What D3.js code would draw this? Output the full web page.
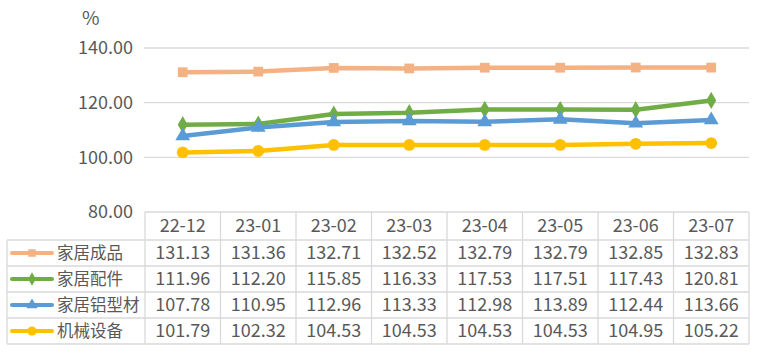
<!DOCTYPE html>
<html><head><meta charset="utf-8">
<script src="https://cdn.jsdelivr.net/npm/d3@7/dist/d3.min.js"></script>
<style>body{margin:0;background:#fff;}svg{display:block;font-family:"Noto Sans CJK SC","Noto Sans",sans-serif;}</style>
</head><body><svg id="c" width="763" height="357"></svg>
<script>
const categories = ["22-12","23-01","23-02","23-03","23-04","23-05","23-06","23-07"];
const seriesNames = ["家居成品","家居配件","家居铝型材","机械设备"];
const s1 = [131.13,131.36,132.71,132.52,132.79,132.79,132.85,132.83];
const s2 = [111.96,112.20,115.85,116.33,117.53,117.51,117.43,120.81];
const s3 = [107.78,110.95,112.96,113.33,112.98,113.89,112.44,113.66];
const s4 = [101.79,102.32,104.53,104.53,104.53,104.53,104.95,105.22];
const yTicks = [80,100,120,140];
const unitLabel = "%";

const colors = ["#F4B183","#70AD47","#5B9BD5","#FFC000"];
const symbols = [d3.symbolSquare, d3.symbolDiamond, d3.symbolTriangle, d3.symbolCircle];
const symSizes = [95, 85, 95, 110];
const series = [s1,s2,s3,s4];

const svg = d3.select("#c");
const pL = 145, pR = 749, pT = 48, pB = 212;
const x = d3.scaleBand().domain(categories).range([pL,pR]);
const y = d3.scaleLinear().domain([80,140]).range([pB,pT]);
const textColor = "#595959", gridColor = "#D9D9D9";
const fs = "18px";

svg.append("g").selectAll("line").data(yTicks.filter(t=>t>80)).join("line")
  .attr("x1",pL-1).attr("x2",pR).attr("y1",d=>y(d)).attr("y2",d=>y(d))
  .attr("stroke",gridColor).attr("stroke-width",1.3);

svg.append("g").selectAll("text").data(yTicks).join("text")
  .attr("x",133).attr("y",d=>y(d)).attr("dy","0.35em").attr("text-anchor","end")
  .attr("fill",textColor).style("font-size",fs).text(d=>d.toFixed(2));
svg.append("text").attr("x",82).attr("y",25).attr("fill",textColor).style("font-size","19px").text(unitLabel);

const rowEdges = [212,240,266,292,318,344];
const tbl = svg.append("g").attr("stroke",gridColor).attr("stroke-width",1.3);
rowEdges.forEach((ry,i)=>{
  tbl.append("line").attr("x1", i===0?pL:7).attr("x2",pR).attr("y1",ry).attr("y2",ry);
});
const colEdges = categories.map(c=>x(c)).concat([pR]);
colEdges.forEach(cx=>{
  tbl.append("line").attr("x1",cx).attr("x2",cx).attr("y1",212).attr("y2",344);
});
tbl.append("line").attr("x1",7).attr("x2",7).attr("y1",240).attr("y2",344);

svg.append("g").selectAll("text").data(categories).join("text")
  .attr("x",d=>x(d)+x.bandwidth()/2).attr("y",(212+240)/2).attr("dy","0.35em")
  .attr("text-anchor","middle").attr("fill",textColor).style("font-size",fs).text(d=>d);

series.forEach((vals,si)=>{
  const ry0 = rowEdges[si+1], ry1 = rowEdges[si+2], cy = (ry0+ry1)/2;
  svg.append("g").selectAll("text").data(vals).join("text")
    .attr("x",(d,i)=>x(categories[i])+x.bandwidth()/2).attr("y",cy).attr("dy","0.35em")
    .attr("text-anchor","middle").attr("fill",textColor).style("font-size",fs).text(d=>d.toFixed(2));
  svg.append("line").attr("x1",12).attr("x2",52).attr("y1",cy).attr("y2",cy)
    .attr("stroke",colors[si]).attr("stroke-width",4).attr("stroke-linecap","round");
  svg.append("path").attr("d",d3.symbol().type(symbols[si]).size(symSizes[si]*0.6)())
    .attr("transform",`translate(32,${cy})`).attr("fill",colors[si]);
  svg.append("text").attr("x",57).attr("y",cy).attr("dy","0.35em").attr("fill",textColor)
    .style("font-size","16.5px").text(seriesNames[si]);
});

series.forEach((vals,si)=>{
  const line = d3.line().x((d,i)=>x(categories[i])+x.bandwidth()/2).y(d=>y(d));
  svg.append("path").datum(vals).attr("d",line).attr("fill","none")
    .attr("stroke",colors[si]).attr("stroke-width",4.5).attr("stroke-linejoin","round");
  svg.append("g").selectAll("path").data(vals).join("path")
    .attr("d",d3.symbol().type(symbols[si]).size(symSizes[si]))
    .attr("transform",(d,i)=>`translate(${x(categories[i])+x.bandwidth()/2},${y(d)})`)
    .attr("fill",colors[si]);
});
</script></body></html>
